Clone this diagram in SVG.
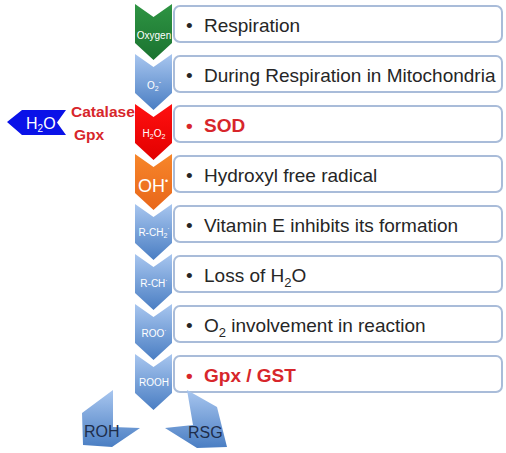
<svg xmlns="http://www.w3.org/2000/svg" width="506" height="453" viewBox="0 0 506 453">
<defs>
<linearGradient id="gBlue" x1="0" y1="0" x2="0" y2="1"><stop offset="0" stop-color="#a8c6ef"/><stop offset="1" stop-color="#4a7ec3"/></linearGradient>
<linearGradient id="gGreen" x1="0" y1="0" x2="0" y2="1"><stop offset="0" stop-color="#2e9443"/><stop offset="1" stop-color="#1b7330"/></linearGradient>
<linearGradient id="gRed" x1="0" y1="0" x2="0" y2="1"><stop offset="0" stop-color="#ff1010"/><stop offset="1" stop-color="#e20000"/></linearGradient>
<linearGradient id="gOrange" x1="0" y1="0" x2="0" y2="1"><stop offset="0" stop-color="#f7862a"/><stop offset="1" stop-color="#e8661a"/></linearGradient>
<polygon id="chev" points="135,0 153.5,13 172,0 172,39 153.5,56 135,39"/>
</defs>
<style>
.box{fill:#fff;stroke:#a9bcd9;stroke-width:2}
.t{font-family:"Liberation Sans",Arial,sans-serif;font-size:19px;fill:#262626}
.red{fill:#d7262b;font-weight:bold}
.cl{font-family:"Liberation Sans",Arial,sans-serif;font-size:10px;fill:#fff;text-anchor:middle}
.lbl{font-family:"Liberation Sans",Arial,sans-serif;font-size:15.5px;font-weight:bold;fill:#d7262b}
.dk{font-family:"Liberation Sans",Arial,sans-serif;font-size:16px;fill:#1e2d4a}
</style>
<rect width="506" height="453" fill="#fff"/>
<g id="connectors"/>

<g id="row1">
<rect class="box" x="174" y="6" width="328" height="36" rx="6"/>
<use href="#chev" y="4" fill="url(#gGreen)"/>
<text class="cl" x="154" y="39">Oxygen</text>
<text class="t" x="186" y="32">•</text><text class="t" x="204" y="32">Respiration</text>
</g>
<g id="row2">
<rect class="box" x="174" y="56" width="328" height="36" rx="6"/>
<use href="#chev" y="54" fill="url(#gBlue)"/>
<text class="cl" x="154" y="89">O<tspan font-size="7" dy="2">2</tspan><tspan font-size="7" dy="-7">-</tspan></text>
<text class="t" x="186" y="82">•</text><text class="t" x="204" y="82">During Respiration in Mitochondria</text>
</g>
<g id="row3">
<rect class="box" x="174" y="106" width="328" height="36" rx="6"/>
<use href="#chev" y="104" fill="url(#gRed)"/>
<text class="cl" x="154" y="137">H<tspan font-size="7" dy="2">2</tspan><tspan dy="-2">O</tspan><tspan font-size="7" dy="2">2</tspan></text>
<text class="t red" x="186" y="132">•</text><text class="t red" x="204" y="132">SOD</text>
</g>
<g id="row4">
<rect class="box" x="174" y="156" width="328" height="36" rx="6"/>
<use href="#chev" y="154" fill="url(#gOrange)"/>
<text class="cl" x="153" y="192" style="font-size:18px">OH<tspan font-size="9" dy="-8">•</tspan></text>
<text class="t" x="186" y="182">•</text><text class="t" x="204" y="182">Hydroxyl free radical</text>
</g>
<g id="row5">
<rect class="box" x="174" y="206" width="328" height="36" rx="6"/>
<use href="#chev" y="204" fill="url(#gBlue)"/>
<text class="cl" x="154" y="236">R-CH<tspan font-size="7" dy="2">2</tspan><tspan font-size="7" dy="-7">·</tspan></text>
<text class="t" x="186" y="232">•</text><text class="t" x="204" y="232">Vitamin E inhibits its formation</text>
</g>
<g id="row6">
<rect class="box" x="174" y="256" width="328" height="36" rx="6"/>
<use href="#chev" y="254" fill="url(#gBlue)"/>
<text class="cl" x="154" y="287">R-CH<tspan font-size="7" dy="-4">·</tspan></text>
<text class="t" x="186" y="282">•</text><text class="t" x="204" y="282">Loss of H<tspan font-size="13" dy="5">2</tspan><tspan dy="-5">O</tspan></text>
</g>
<g id="row7">
<rect class="box" x="174" y="306" width="328" height="36" rx="6"/>
<use href="#chev" y="304" fill="url(#gBlue)"/>
<text class="cl" x="154" y="337">ROO<tspan font-size="7" dy="-4">·</tspan></text>
<text class="t" x="186" y="332">•</text><text class="t" x="204" y="332">O<tspan font-size="13" dy="5">2</tspan><tspan dy="-5"> involvement in reaction</tspan></text>
</g>
<g id="row8">
<rect class="box" x="174" y="356" width="328" height="36" rx="6"/>
<use href="#chev" y="354" fill="url(#gBlue)"/>
<text class="cl" x="154" y="386">ROOH</text>
<text class="t red" x="186" y="382">•</text><text class="t red" x="204" y="382">Gpx / GST</text>
</g>

<g id="h2o">
<polygon points="7,122 22,110 66,110 57,122.5 66,135 22,135" fill="#0a12e8"/>
<text x="26" y="129" font-family="Liberation Sans, Arial, sans-serif" font-size="16" fill="#fff">H<tspan font-size="10" dy="3">2</tspan><tspan dy="-3">O</tspan></text>
</g>
<g id="enzymes">
<text class="lbl" x="71" y="117">Catalase</text>
<text class="lbl" x="74" y="140">Gpx</text>
</g>
<g id="roh">
<polygon points="113,390 113,427 140,428 112,447 83,445 82,413" fill="url(#gBlue)"/>
<text class="dk" x="84" y="437">ROH</text>
</g>
<g id="rsg">
<polygon points="187,390 217,407 227,447 197,448 165,428 193,425" fill="url(#gBlue)"/>
<text class="dk" x="188" y="438">RSG</text>
</g>
</svg>
